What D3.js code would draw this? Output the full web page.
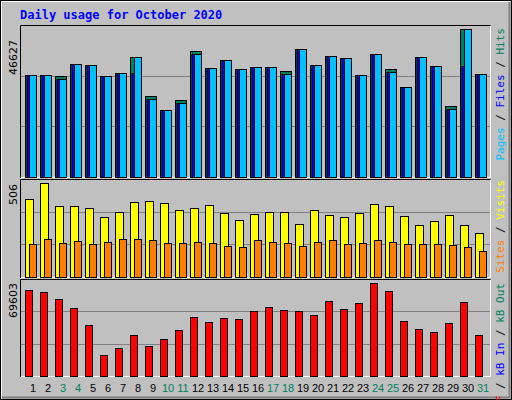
<!DOCTYPE html>
<html><head><meta charset="utf-8">
<script src="https://cdn.jsdelivr.net/npm/d3@7/dist/d3.min.js"></script>
<style>body{margin:0;background:#fff}svg{display:block}</style>
</head><body>
<script>
const days = d3.range(1,32).map(String);
const weekend = ["3","4","10","11","17","18","24","25","31"];
const hits  = [32040,32040,31726,35506,35191,31726,32671,37711,25425,21014,24164,39602,34246,36766,33931,34561,34561,33301,40232,35191,38027,37397,32040,38657,33931,28260,37711,34876,22274,46627,32356];
const files = [32040,32040,30781,35506,35191,31726,32671,32765,24480,21014,23219,38657,34246,36766,33931,34561,34561,32356,40232,35191,38027,37397,32040,38657,32986,28260,37711,34876,21329,34970,32356];
const pages = [32040,32040,30781,35506,35191,31726,32671,37711,24480,21014,23219,38657,34246,36766,33931,34561,34561,32356,40232,35191,38027,37397,32040,38657,32986,28260,37711,34876,21329,46627,32356];
const visits = [418,506,380,380,374,325,352,402,407,396,363,374,385,347,308,341,352,352,286,363,336,325,347,391,380,330,281,303,336,281,237];
const sites  = [177,204,182,193,177,188,204,204,199,182,182,188,182,166,160,199,188,182,166,188,199,177,182,199,188,177,177,177,171,160,138];
const kbytes = [64271,62748,57417,50564,38380,15535,20865,30765,22388,27719,34572,44472,40664,43710,42949,48279,51325,49041,48279,45995,55894,49802,54371,69603,63509,41426,35334,33049,39903,55133,30765];

const W=512,H=400;
const svg=d3.select("body").append("svg").attr("width",W).attr("height",H);
svg.append("rect").attr("width",W).attr("height",H).attr("fill","#c0c0c0");
svg.append("rect").attr("x",0.5).attr("y",0.5).attr("width",W-1).attr("height",H-1).attr("fill","none").attr("stroke","#000");
svg.append("path").attr("d","M1.5,398.5V1.5H510.5").attr("fill","none").attr("stroke","#fff");
svg.append("path").attr("d","M2,397.5H509.5V2").attr("fill","none").attr("stroke","#808080").attr("stroke-width",2);

const x=d3.scaleBand().domain(days).range([25,490]);
const mono="'DejaVu Sans Mono', monospace";
svg.append("text").attr("x",20).attr("y",19).attr("fill","#0000ff").attr("font-family",mono)
 .attr("font-weight","bold").attr("font-size",12).text("Daily usage for October 2020");

function panel(y0,y1,max){
  svg.append("rect").attr("x",20).attr("y",y0).attr("width",471).attr("height",y1-y0).attr("fill","#c0c0c0");
  const y=d3.scaleLinear().domain([0,max]).range([y1-1,y0+4]);
  [1/3,2/3].forEach(f=>{const yy=Math.round(y1-1-(y1-1-y0)*f)+0.5;
    svg.append("line").attr("x1",21).attr("x2",490).attr("y1",yy).attr("y2",yy).attr("stroke","#808080");});
  svg.append("path").attr("d",`M20.5,${y1}V${y0+0.5}H490.5`).attr("fill","none").attr("stroke","#000");
  svg.append("path").attr("d",`M21,${y1-0.5}H490.5V${y0+1}`).attr("fill","none").attr("stroke","#fff");
  return y;
}
function bars(data,y,dx,w,fill){
  svg.append("g").selectAll("rect").data(data).join("rect")
   .attr("x",(d,i)=>x(days[i])+dx+0.5).attr("width",w)
   .attr("y",d=>Math.round(y(d))+0.5).attr("height",d=>y.range()[0]-Math.round(y(d)))
   .attr("fill",fill).attr("stroke","#000");
}
const y1=panel(25,178,46627);
bars(hits,y1,0,11,"#00805c");
bars(files,y1,1.5,9.5,"#0000ff");
bars(pages,y1,4,7,"#00c0ff");
const y2=panel(179,278,506);
bars(visits,y2,0,8,"#ffff00");
bars(sites,y2,4,7,"#ff8000");
const y3=panel(279,377,69603);
bars(kbytes,y3,0,7,"#ff0000");

[[40,"46627"],[184,"506"],[283,"69603"]].forEach(([yy,t])=>{
  svg.append("text").attr("transform",`translate(17,${yy}) rotate(-90)`).attr("text-anchor","end")
   .attr("font-family","'DejaVu Sans', sans-serif").attr("font-size",11).attr("fill","#000").text(t);
});
function legend(yTop,parts){
  const t=svg.append("text").attr("transform",`translate(504,${yTop}) rotate(-90)`).attr("text-anchor","end")
   .attr("font-family",mono).attr("font-size",11);
  parts.forEach(([s,c])=>t.append("tspan").attr("fill",c).text(s));
}
legend(28,[["Pages","#00c0ff"],[" / ","#000"],["Files","#0000ff"],[" / ","#000"],["Hits","#00805c"]]);
legend(180,[["Sites","#ff8000"],[" / ","#000"],["Visits","#ffff00"]]);
legend(283,[["kB F","#ff0000"],[" / ","#000"],["kB In","#0000ff"],[" / ","#000"],["kB Out","#00805c"]]);

svg.append("g").selectAll("text").data(days).join("text")
 .attr("x",d=>x(d)+8).attr("y",392).attr("text-anchor","middle")
 .attr("font-family","'Liberation Sans', sans-serif").attr("font-size",11)
 .attr("fill",d=>weekend.includes(d)?"#00805c":"#000").text(d=>d);
</script>
</body></html>
